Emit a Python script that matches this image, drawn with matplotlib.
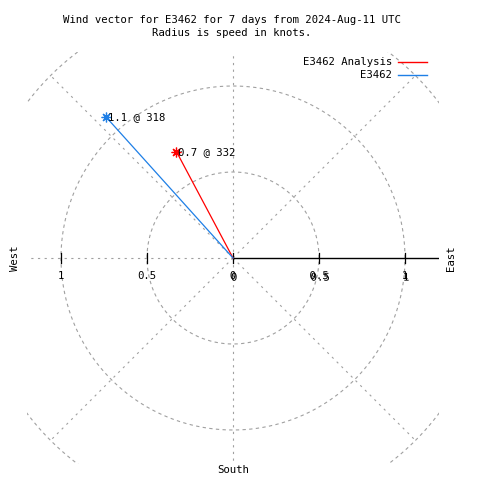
import numpy as np
import matplotlib
matplotlib.use("Agg")
import matplotlib.pyplot as plt
import matplotlib.patheffects as pe

# wind vectors: speed in knots, direction in degrees (clockwise from north)
series_names = ["E3462 Analysis", "E3462"]
speeds = [0.7, 1.1]
directions = [332, 318]
colors = ["#ff0000", "#1e7fe6"]

ring_radii = [0.5, 1.0, 1.5]
spoke_angles = [45, 90, 135, 180, 225, 270, 315]
tick_values = [-1, -0.5, 0, 0.5, 1]
tick_labels = ["1", "0.5", "0", "0.5", "1"]

RMAX = 1.2
W = H = 480
CX, CY = 233, 258        # pixel position of the origin
SCALE = 172.0            # pixels per knot

plt.rcParams['font.family'] = ['DejaVu Sans Mono']
FS = 7.7
GRID = "#a0a0a0"

fig = plt.figure(figsize=(4.8, 4.8), dpi=100)
left = (CX - RMAX * SCALE) / W
bottom = 1 - (CY + RMAX * SCALE) / H
ax = fig.add_axes([left, bottom, 2 * RMAX * SCALE / W, 2 * RMAX * SCALE / H])
ax.set_xlim(-RMAX, RMAX)
ax.set_ylim(-RMAX, RMAX)
ax.set_aspect('equal')
ax.axis('off')

def fx(px):
    return px / W

def fy(py):
    return 1 - py / H

# polar grid: rings and spokes, clipped to the square box
t = np.linspace(0, 2 * np.pi, 721)
for r in ring_radii:
    ax.plot(r * np.cos(t), r * np.sin(t), color=GRID, lw=0.8,
            linestyle=(0, (3, 3)), zorder=1)
for a in spoke_angles:
    ar = np.deg2rad(a)
    ax.plot([0, 1.5 * np.cos(ar)], [0, 1.5 * np.sin(ar)], color=GRID, lw=0.8,
            linestyle=(0, (2, 4)), zorder=1)

# radial axis along east, labels doubled on the positive side like the original
doubled = [pe.SimplePatchShadow(offset=(0.8, -1.2), shadow_rgbFace='black', alpha=1.0),
           pe.Normal()]
ax.plot([0, RMAX], [0, 0], color='black', lw=1.0, zorder=3)
for v, lab in zip(tick_values, tick_labels):
    ax.plot([v, v], [-5 / SCALE, 5 / SCALE], color='black', lw=0.9, zorder=3)
    txt = ax.text(v, -18 / SCALE, lab, fontsize=FS, ha='center', va='center', zorder=4)
    if v >= 0:
        txt.set_path_effects(doubled)

# vectors
for name, spd, d, c in zip(series_names, speeds, directions, colors):
    th = np.deg2rad(d)
    x, y = spd * np.sin(th), spd * np.cos(th)
    ax.plot([0, x], [0, y], color=c, lw=0.9, zorder=5)
    ax.plot([x], [y], marker=(8, 2, 0), color=c, markersize=7, mew=0.9, zorder=6)
    ax.text(x + 2 / SCALE, y, f"{spd:.1f} @ {d}", fontsize=FS, ha='left',
            va='center', zorder=7)

# titles
fig.text(fx(232), fy(20), "Wind vector for E3462 for 7 days from 2024-Aug-11 UTC",
         fontsize=FS, ha='center', va='center')
fig.text(fx(232), fy(33), "Radius is speed in knots.",
         fontsize=FS, ha='center', va='center')

# compass labels
fig.text(fx(15), fy(CY), "West", fontsize=FS, rotation=90, ha='center', va='center')
fig.text(fx(451), fy(CY), "East", fontsize=FS, rotation=90, ha='center', va='center')
fig.text(fx(CX), fy(470), "South", fontsize=FS, ha='center', va='center')

# legend
for i, (name, c) in enumerate(zip(series_names, colors)):
    yy = 62 + 13 * i
    fig.text(fx(392), fy(yy), name, fontsize=FS, ha='right', va='center')
    fig.add_artist(plt.Line2D([fx(398), fx(427)], [fy(yy), fy(yy)], color=c, lw=1.0))

fig.savefig("out.png", dpi=100)
